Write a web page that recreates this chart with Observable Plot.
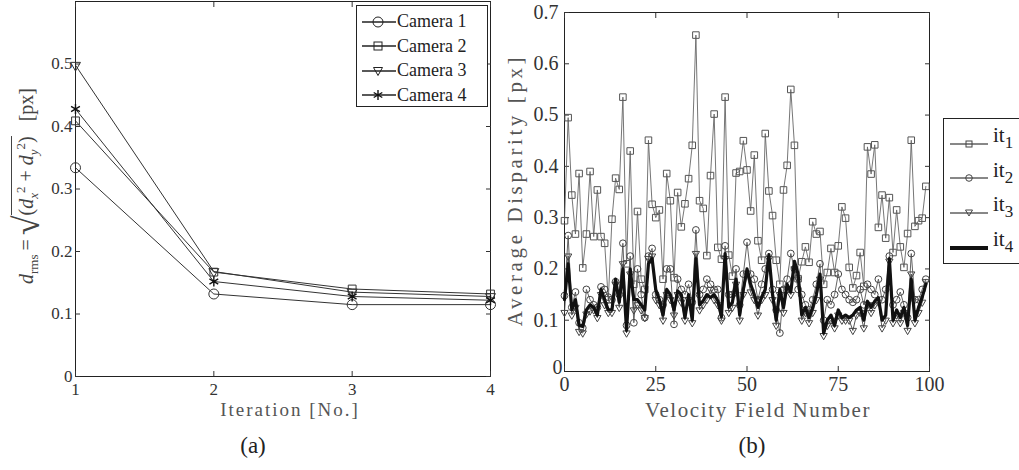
<!DOCTYPE html>
<html><head><meta charset="utf-8">
<script src="https://cdn.jsdelivr.net/npm/d3@7"></script>
<script src="https://cdn.jsdelivr.net/npm/@observablehq/plot@0.6"></script>
<style>
body{margin:0;background:#fff;}
#wrap{position:relative;width:1019px;height:470px;font-family:"Liberation Serif",serif;color:#333;overflow:hidden;}
.abs{position:absolute;}
.rot{position:absolute;white-space:nowrap;transform:translate(-50%,-50%) rotate(-90deg);}
.legend{position:absolute;border:1px solid #222;background:#fff;box-sizing:border-box;}
.lrow{position:absolute;left:0;display:flex;align-items:center;white-space:nowrap;}
sub,sup{font-size:65%;}
</style></head><body><div id="wrap"></div>
<script>
// ---- Panel (a) data ----
const iterations = [1, 2, 3, 4];
const cameraNames = ["Camera 1", "Camera 2", "Camera 3", "Camera 4"];
const camera1 = [0.334, 0.132, 0.115, 0.115];
const camera2 = [0.409, 0.167, 0.140, 0.132];
const camera3 = [0.498, 0.168, 0.135, 0.128];
const camera4 = [0.428, 0.152, 0.128, 0.122];
const yTicksA = [0, 0.1, 0.2, 0.3, 0.4, 0.5];

// ---- Panel (b) data ----
const seriesNames = ["it1", "it2", "it3", "it4"];
const it1 = [0.294,0.495,0.344,0.268,0.386,0.202,0.268,0.390,0.263,0.354,
 0.263,0.250,0.140,0.297,0.377,0.355,0.535,0.210,0.430,0.170,
 0.312,0.180,0.160,0.451,0.326,0.300,0.315,0.180,0.386,0.333,
 0.183,0.349,0.282,0.327,0.376,0.441,0.656,0.333,0.318,0.226,
 0.382,0.502,0.242,0.219,0.535,0.227,0.186,0.387,0.390,0.450,
 0.393,0.313,0.422,0.255,0.217,0.464,0.352,0.304,0.217,0.170,
 0.354,0.402,0.550,0.441,0.181,0.214,0.243,0.213,0.292,0.268,
 0.273,0.170,0.193,0.240,0.193,0.245,0.321,0.299,0.203,0.163,
 0.187,0.232,0.166,0.438,0.385,0.442,0.281,0.344,0.260,0.339,
 0.232,0.315,0.243,0.203,0.269,0.451,0.283,0.294,0.299,0.361];
const it2 = [0.148,0.265,0.125,0.155,0.095,0.085,0.160,0.140,0.130,0.125,
 0.165,0.160,0.145,0.140,0.175,0.150,0.250,0.090,0.225,0.095,
 0.200,0.150,0.105,0.225,0.240,0.150,0.140,0.130,0.200,0.200,
 0.092,0.180,0.160,0.150,0.170,0.135,0.276,0.150,0.160,0.180,
 0.170,0.160,0.160,0.105,0.245,0.150,0.150,0.200,0.130,0.190,
 0.252,0.190,0.180,0.140,0.170,0.200,0.230,0.160,0.120,0.075,
 0.160,0.180,0.230,0.200,0.160,0.150,0.130,0.120,0.140,0.170,
 0.210,0.100,0.140,0.130,0.150,0.190,0.160,0.150,0.140,0.135,
 0.140,0.160,0.130,0.170,0.160,0.150,0.180,0.140,0.160,0.225,
 0.130,0.140,0.155,0.130,0.105,0.230,0.140,0.140,0.160,0.180];
const it3 = [0.115,0.225,0.110,0.125,0.078,0.075,0.112,0.118,0.120,0.105,
 0.150,0.130,0.115,0.115,0.170,0.125,0.210,0.075,0.190,0.120,
 0.130,0.120,0.105,0.220,0.225,0.140,0.130,0.100,0.150,0.140,
 0.110,0.150,0.135,0.100,0.140,0.095,0.230,0.120,0.130,0.140,
 0.160,0.140,0.130,0.100,0.220,0.115,0.125,0.170,0.100,0.150,
 0.190,0.155,0.140,0.110,0.140,0.150,0.220,0.140,0.090,0.150,
 0.115,0.160,0.150,0.200,0.180,0.100,0.115,0.095,0.115,0.140,
 0.180,0.070,0.090,0.100,0.085,0.110,0.100,0.100,0.100,0.080,
 0.110,0.115,0.085,0.130,0.115,0.130,0.135,0.085,0.100,0.215,
 0.095,0.110,0.095,0.115,0.080,0.190,0.095,0.115,0.135,0.175];
const it4 = [0.140,0.210,0.120,0.140,0.090,0.088,0.120,0.130,0.125,0.110,
 0.160,0.140,0.120,0.120,0.180,0.135,0.200,0.080,0.200,0.140,
 0.140,0.130,0.120,0.210,0.220,0.160,0.140,0.110,0.160,0.150,
 0.120,0.157,0.150,0.105,0.150,0.100,0.220,0.130,0.138,0.150,
 0.144,0.150,0.138,0.107,0.230,0.125,0.135,0.180,0.110,0.160,
 0.200,0.170,0.150,0.125,0.145,0.160,0.228,0.150,0.100,0.160,
 0.125,0.170,0.155,0.215,0.190,0.110,0.125,0.105,0.125,0.150,
 0.190,0.075,0.100,0.110,0.090,0.120,0.105,0.110,0.105,0.110,
 0.120,0.125,0.100,0.137,0.125,0.137,0.144,0.100,0.110,0.220,
 0.100,0.120,0.105,0.125,0.090,0.180,0.100,0.125,0.145,0.170];
const xTicksB = [0, 25, 50, 75, 100];
const yTicksB = [0.1, 0.2, 0.3, 0.4, 0.5, 0.6, 0.7];

const wrap = document.getElementById("wrap");

// ---------- Panel (a) ----------
const camVals = [camera1, camera2, camera3, camera4];
const dataA = cameraNames.flatMap((name, k) => iterations.map((it, j) => ({series: name, x: it, y: camVals[k][j]})));
const pick = name => dataA.filter(d => d.series === name);
const fmt = d => String(d);
const blank = () => "";
const cs = "#333";
const plotA = Plot.plot({
  width: 500, height: 400,
  marginLeft: 75, marginRight: 10, marginTop: 1, marginBottom: 24,
  x: {domain: [1, 4]}, y: {domain: [0, 0.6]},
  style: {fontFamily: "Liberation Serif, serif", fontSize: "17px", color: "#333", background: "transparent", overflow: "visible"},
  marks: [
    Plot.frame({stroke: "#222"}),
    Plot.axisX({ticks: iterations, tickSize: 0, tickPadding: 6, tickFormat: fmt, label: null, fontSize: 17}),
    Plot.axisX({ticks: iterations, anchor: "bottom", tickSize: -5, tickFormat: blank, label: null}),
    Plot.axisX({ticks: iterations, anchor: "top", tickSize: -5, tickFormat: blank, label: null}),
    Plot.axisY({ticks: yTicksA, tickSize: 0, tickPadding: 3, tickFormat: fmt, label: null, fontSize: 17}),
    Plot.axisY({ticks: yTicksA, anchor: "left", tickSize: -5, tickFormat: blank, label: null}),
    Plot.axisY({ticks: yTicksA, anchor: "right", tickSize: -5, tickFormat: blank, label: null}),
    Plot.line(dataA, {x: "x", y: "y", z: "series", stroke: cs, strokeWidth: 1}),
    Plot.dot(pick("Camera 1"), {x: "x", y: "y", symbol: "circle", r: 5, stroke: cs, strokeWidth: 1, fill: "none"}),
    Plot.dot(pick("Camera 2"), {x: "x", y: "y", symbol: "square", r: 4.4, stroke: cs, strokeWidth: 1, fill: "none"}),
    Plot.dot(pick("Camera 3"), {x: "x", y: "y", symbol: "triangle", rotate: 180, r: 3.7, stroke: cs, strokeWidth: 1, fill: "none"}),
    Plot.dot(pick("Camera 4"), {x: "x", y: "y", symbol: "asterisk", r: 4.8, stroke: "#111", strokeWidth: 1.4, fill: "none"})
  ]
});
plotA.style.position = "absolute"; plotA.style.left = "0px"; plotA.style.top = "0px";
wrap.appendChild(plotA);

// ---------- Panel (b) ----------
const itVals = [it1, it2, it3, it4];
const dataB = seriesNames.flatMap((name, k) => itVals[k].map((v, i) => ({series: name, x: i, y: v})));
const pickB = name => dataB.filter(d => d.series === name);
const plotB = Plot.plot({
  width: 440, height: 400,
  marginLeft: 64, marginRight: 11, marginTop: 12, marginBottom: 29,
  x: {domain: [0, 100]}, y: {domain: [0, 0.7]},
  style: {fontFamily: "Liberation Serif, serif", fontSize: "20px", color: "#333", background: "transparent", overflow: "visible"},
  marks: [
    Plot.frame({stroke: "#222"}),
    Plot.axisX({ticks: xTicksB, tickSize: 0, tickPadding: 5, tickFormat: fmt, label: null, fontSize: 20}),
    Plot.axisX({ticks: xTicksB, anchor: "bottom", tickSize: -5, tickFormat: blank, label: null}),
    Plot.axisX({ticks: xTicksB, anchor: "top", tickSize: -5, tickFormat: blank, label: null}),
    Plot.axisY({ticks: yTicksB, tickSize: 0, tickPadding: 6, tickFormat: fmt, label: null, fontSize: 20}),
    Plot.axisY({ticks: [0], tickSize: 0, tickPadding: 2, tickFormat: fmt, label: null, fontSize: 20, dy: -4}),
    Plot.axisY({ticks: yTicksB, anchor: "left", tickSize: -5, tickFormat: blank, label: null}),
    Plot.axisY({ticks: yTicksB, anchor: "right", tickSize: -5, tickFormat: blank, label: null}),
    Plot.line(pickB("it1"), {x: "x", y: "y", stroke: "#666", strokeWidth: 0.9}),
    Plot.dot(pickB("it1"), {x: "x", y: "y", symbol: "square", r: 3.7, stroke: "#555", strokeWidth: 1, fill: "none"}),
    Plot.line(pickB("it2"), {x: "x", y: "y", stroke: "#555", strokeWidth: 0.9}),
    Plot.dot(pickB("it2"), {x: "x", y: "y", symbol: "circle", r: 3.4, stroke: "#444", strokeWidth: 1, fill: "none"}),
    Plot.line(pickB("it3"), {x: "x", y: "y", stroke: "#444", strokeWidth: 0.9}),
    Plot.dot(pickB("it3"), {x: "x", y: "y", symbol: "triangle", rotate: 180, r: 2.7, stroke: "#444", strokeWidth: 1, fill: "none"}),
    Plot.line(pickB("it4"), {x: "x", y: "y", stroke: "#111", strokeWidth: 3.2, strokeLinejoin: "round"})
  ]
});
plotB.style.position = "absolute"; plotB.style.left = "500px"; plotB.style.top = "0px";
wrap.appendChild(plotB);

// ---------- Text labels ----------
function addHTML(html) { const t = document.createElement("div"); t.innerHTML = html; const el = t.firstElementChild; wrap.appendChild(el); return el; }
addHTML(`<div class="rot" style="left:27px;top:186px;font-size:20px;color:#444;"><i>d</i><sub>rms</sub>&thinsp;=&thinsp;<span style="font-size:36px;vertical-align:-6px;">√</span><span style="border-top:1.3px solid #444;padding-top:3px;">(<i>d</i><sub><i>x</i></sub><sup>2</sup> + <i>d</i><sub><i>y</i></sub><sup>2</sup>)</span>&nbsp;&nbsp;&nbsp;[px]</div>`);
addHTML(`<div class="abs" style="left:0;width:580px;top:399px;text-align:center;font-size:19px;letter-spacing:2px;color:#555;">Iteration [No.]</div>`);
addHTML(`<div class="abs" style="left:0;width:506px;top:433px;text-align:center;font-size:23px;color:#222;">(a)</div>`);
addHTML(`<div class="rot" style="left:515px;top:190px;font-size:21px;letter-spacing:3.6px;color:#555;">Average Disparity [px]</div>`);
addHTML(`<div class="abs" style="left:568px;width:380px;top:398px;text-align:center;font-size:21px;letter-spacing:1.6px;color:#555;">Velocity Field Number</div>`);
addHTML(`<div class="abs" style="left:700px;width:104px;top:433px;text-align:center;font-size:23px;color:#222;">(b)</div>`);

// ---------- Legend (a) ----------
const legA = addHTML(`<div class="legend" style="left:356px;top:5px;width:132px;height:102px;"></div>`);
const symA = [
  `<circle cx="16" cy="8" r="5" fill="none" stroke="#222"/>`,
  `<rect x="12" y="4" width="8" height="8" fill="none" stroke="#222"/>`,
  `<path d="M11.5,4.5 L20.5,4.5 L16,12.5 Z" fill="none" stroke="#222"/>`,
  `<path d="M16,3 V13 M11.7,5.5 L20.3,10.5 M11.7,10.5 L20.3,5.5" stroke="#111" stroke-width="1.4"/>`
];
cameraNames.forEach((name, k) => {
  legA.insertAdjacentHTML("beforeend", `<div class="lrow" style="top:${5 + k * 24.5}px;left:5px;font-size:18px;color:#222;"><svg width="34" height="16"><line x1="0" x2="34" y1="8" y2="8" stroke="#222" stroke-width="1.3"/>${symA[k]}</svg><span style="margin-left:1px;">${name}</span></div>`);
});

// ---------- Legend (b) ----------
const legB = addHTML(`<div class="legend" style="left:943px;top:118px;width:77px;height:146px;"></div>`);
const symB = [
  `<rect x="16" y="4" width="6" height="6" fill="none" stroke="#444"/>`,
  `<circle cx="19" cy="7" r="3.3" fill="none" stroke="#444"/>`,
  `<path d="M15.5,4 L22.5,4 L19,10 Z" fill="none" stroke="#444"/>`,
  ``
];
seriesNames.forEach((name, k) => {
  const w = k === 3 ? 4 : 1;
  legB.insertAdjacentHTML("beforeend", `<div class="lrow" style="top:${12 + k * 34.7}px;left:6px;font-size:21px;color:#222;"><svg width="38" height="14"><line x1="0" x2="38" y1="7" y2="7" stroke="#111" stroke-width="${w}"/>${symB[k]}</svg><span style="margin-left:5px;position:relative;top:-8px;">it<sub style="font-size:17px;position:relative;top:6px;vertical-align:baseline;">${k + 1}</sub></span></div>`);
});
</script></body></html>
